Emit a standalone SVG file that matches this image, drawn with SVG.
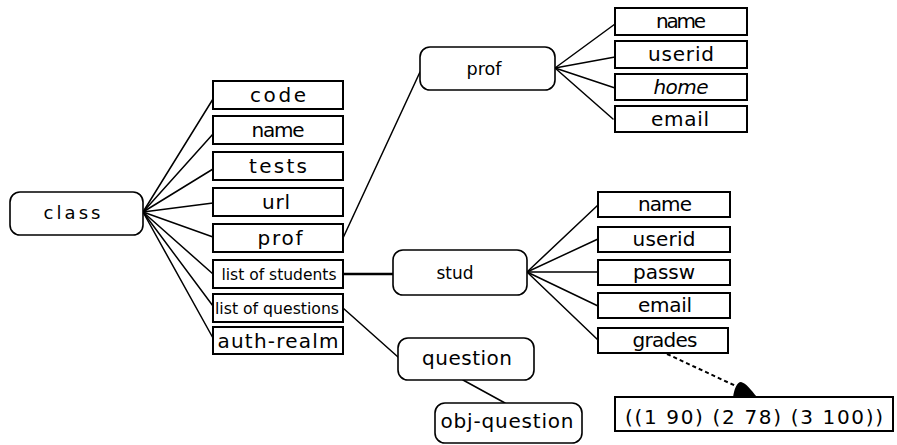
<svg xmlns="http://www.w3.org/2000/svg" width="897" height="445" viewBox="0 0 897 445">
  <style>
    .box { fill: #fff; stroke: #000; stroke-width: 2; }
    .node { fill: #fff; stroke: #000; stroke-width: 1.6; }
    .edge { fill: none; stroke: #000; stroke-width: 1.5; stroke-linecap: round; }
    .thick { stroke-width: 2.6; }
    .dash { stroke-width: 2; stroke-dasharray: 4 3; stroke-linecap: butt; }
    text { font-family: "DejaVu Sans", "Liberation Sans", sans-serif; fill: #000; text-anchor: middle; }
    .lbl { font-size: 20px; }
    .nlbl { font-size: 18px; }
    .small { font-size: 16px; }
  </style>

  <!-- connectors -->
  <g id="connectors">
    <!-- class to its slots -->
    <line class="edge" x1="143" y1="212" x2="213" y2="99"/>
    <line class="edge" x1="143" y1="212" x2="213" y2="134"/>
    <line class="edge" x1="143" y1="212" x2="213" y2="169"/>
    <line class="edge" x1="143" y1="212" x2="213" y2="203"/>
    <line class="edge" x1="143" y1="212" x2="213" y2="237"/>
    <line class="edge" x1="143" y1="212" x2="213" y2="274"/>
    <line class="edge" x1="143" y1="212" x2="213" y2="306"/>
    <line class="edge" x1="143" y1="212" x2="213" y2="338"/>
    <!-- slot values -->
    <line class="edge" x1="343" y1="238" x2="420" y2="72"/>
    <line class="edge thick" x1="343" y1="274" x2="393" y2="274"/>
    <line class="edge" x1="343" y1="308" x2="398" y2="357"/>
    <line class="edge" x1="463" y1="380" x2="505" y2="403"/>
    <!-- prof slots -->
    <line class="edge" x1="555" y1="68" x2="615" y2="24"/>
    <line class="edge" x1="555" y1="68" x2="615" y2="57"/>
    <line class="edge" x1="555" y1="68" x2="615" y2="88"/>
    <line class="edge" x1="555" y1="68" x2="613" y2="119"/>
    <!-- stud slots -->
    <line class="edge" x1="527" y1="272" x2="598" y2="205"/>
    <line class="edge" x1="527" y1="272" x2="598" y2="239"/>
    <line class="edge" x1="527" y1="272" x2="598" y2="272"/>
    <line class="edge" x1="527" y1="272" x2="598" y2="306"/>
    <line class="edge" x1="527" y1="272" x2="598" y2="340"/>
    <!-- grades value pointer -->
    <line class="edge dash" x1="667" y1="354" x2="738" y2="387"/>
    <path d="M 733 398 C 734 389 737 382 741 382 C 746 383 751 390 757 397 Z" fill="#000"/>
  </g>

  <!-- class -->
  <g id="class">
    <rect class="node" x="10" y="192" width="133" height="43" rx="10"/>
    <text class="nlbl" x="72" y="219" textLength="57" lengthAdjust="spacing">class</text>
  </g>

  <g id="class-code">
    <rect class="box" x="213" y="81" width="130" height="28"/>
    <text class="lbl" x="278" y="102" textLength="56" lengthAdjust="spacing">code</text>
  </g>
  <g id="class-name">
    <rect class="box" x="213" y="116" width="130" height="28"/>
    <text class="lbl" x="278" y="137" textLength="53" lengthAdjust="spacing">name</text>
  </g>
  <g id="class-tests">
    <rect class="box" x="213" y="152" width="130" height="28"/>
    <text class="lbl" x="278" y="173" textLength="58" lengthAdjust="spacing">tests</text>
  </g>
  <g id="class-url">
    <rect class="box" x="213" y="188" width="130" height="28"/>
    <text class="lbl" x="276" y="209" textLength="28" lengthAdjust="spacing">url</text>
  </g>
  <g id="class-prof">
    <rect class="box" x="213" y="224" width="130" height="28"/>
    <text class="lbl" x="280" y="245" textLength="45" lengthAdjust="spacing">prof</text>
  </g>
  <g id="class-students">
    <rect class="box" x="213" y="260" width="130" height="28"/>
    <text class="small" x="279" y="280" textLength="115" lengthAdjust="spacingAndGlyphs">list of students</text>
  </g>
  <g id="class-questions">
    <rect class="box" x="213" y="294" width="130" height="28"/>
    <text class="small" x="277" y="314" textLength="124" lengthAdjust="spacingAndGlyphs">list of questions</text>
  </g>
  <g id="class-auth-realm">
    <rect class="box" x="213" y="327" width="130" height="27"/>
    <text class="lbl" x="278" y="348" textLength="121" lengthAdjust="spacing">auth-realm</text>
  </g>

  <!-- prof -->
  <g id="prof">
    <rect class="node" x="420" y="47" width="135" height="43" rx="10"/>
    <text class="nlbl" x="484" y="75" textLength="35" lengthAdjust="spacingAndGlyphs">prof</text>
  </g>
  <g id="prof-name">
    <rect class="box" x="615" y="8" width="132" height="27"/>
    <text class="lbl" x="681" y="28" textLength="50" lengthAdjust="spacing">name</text>
  </g>
  <g id="prof-userid">
    <rect class="box" x="615" y="41" width="132" height="27"/>
    <text class="lbl" x="681" y="61" textLength="66" lengthAdjust="spacing">userid</text>
  </g>
  <g id="prof-home">
    <rect class="box" x="615" y="74" width="132" height="26"/>
    <text class="lbl" x="681" y="94" textLength="55" lengthAdjust="spacing" font-style="italic">home</text>
  </g>
  <g id="prof-email">
    <rect class="box" x="615" y="106" width="132" height="26"/>
    <text class="lbl" x="680" y="126" textLength="58" lengthAdjust="spacing">email</text>
  </g>

  <!-- stud -->
  <g id="stud">
    <rect class="node" x="393" y="250" width="134" height="45" rx="10"/>
    <text class="nlbl" x="455" y="279" textLength="37" lengthAdjust="spacingAndGlyphs">stud</text>
  </g>
  <g id="stud-name">
    <rect class="box" x="598" y="192" width="132" height="25"/>
    <text class="lbl" x="665" y="211" textLength="54" lengthAdjust="spacing">name</text>
  </g>
  <g id="stud-userid">
    <rect class="box" x="598" y="227" width="132" height="25"/>
    <text class="lbl" x="664" y="246" textLength="63" lengthAdjust="spacing">userid</text>
  </g>
  <g id="stud-passw">
    <rect class="box" x="598" y="260" width="132" height="25"/>
    <text class="lbl" x="664" y="279" textLength="62" lengthAdjust="spacing">passw</text>
  </g>
  <g id="stud-email">
    <rect class="box" x="598" y="293" width="132" height="25"/>
    <text class="lbl" x="665" y="312" textLength="54" lengthAdjust="spacing">email</text>
  </g>
  <g id="stud-grades">
    <rect class="box" x="598" y="328" width="130" height="25"/>
    <text class="lbl" x="665" y="347" textLength="65" lengthAdjust="spacing">grades</text>
  </g>

  <!-- grades value -->
  <g id="grades-value">
    <rect class="box" x="615" y="397" width="278" height="34"/>
    <text class="lbl" x="754" y="424" textLength="258" lengthAdjust="spacing">((1 90) (2 78) (3 100))</text>
  </g>

  <!-- question -->
  <g id="question">
    <rect class="node" x="398" y="338" width="136" height="42" rx="10"/>
    <text class="lbl" x="467" y="365" textLength="90" lengthAdjust="spacing">question</text>
  </g>
  <g id="obj-question">
    <rect class="node" x="435" y="403" width="147" height="40" rx="10"/>
    <text class="lbl" x="507" y="428" textLength="133" lengthAdjust="spacing">obj-question</text>
  </g>
</svg>
